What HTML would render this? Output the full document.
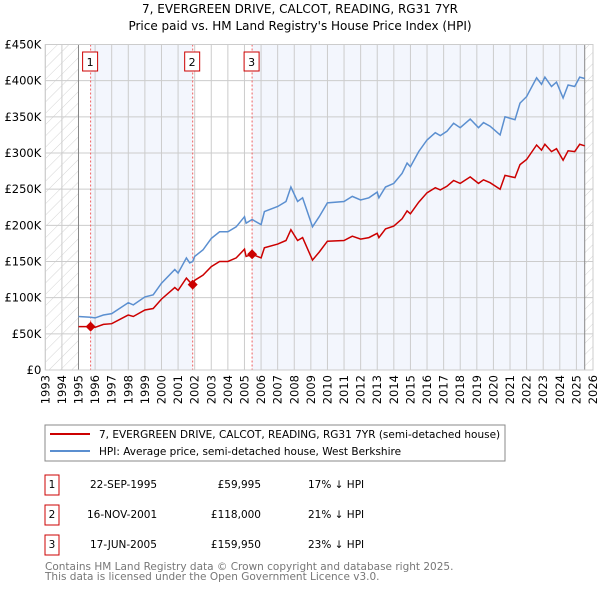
<!DOCTYPE html>
<html><head><meta charset="utf-8"><style>
body{margin:0;background:#fff;width:600px;height:590px;overflow:hidden;font-family:"DejaVu Sans","Liberation Sans",sans-serif}
svg text{font-family:"DejaVu Sans","Liberation Sans",sans-serif}
</style></head><body>
<svg id="chart" width="600" height="590" xmlns="http://www.w3.org/2000/svg">
<defs><pattern id="hatch" width="8" height="8" patternUnits="userSpaceOnUse" patternTransform="rotate(45)"><line x1="0" y1="0" x2="0" y2="8" stroke="#d4d4d4" stroke-width="1"/></pattern></defs>
<text x="300" y="13" text-anchor="middle" font-size="12">7, EVERGREEN DRIVE, CALCOT, READING, RG31 7YR</text>
<text x="300" y="30" text-anchor="middle" font-size="12">Price paid vs. HM Land Registry's House Price Index (HPI)</text>
<g id="plot"></g>
<rect x="45" y="425" width="460" height="36" fill="#fff" stroke="#888"/>
<line x1="50" y1="434" x2="90" y2="434" stroke="#cc0000" stroke-width="2"/>
<text x="99" y="438" font-size="10.5">7, EVERGREEN DRIVE, CALCOT, READING, RG31 7YR (semi-detached house)</text>
<line x1="50" y1="451" x2="90" y2="451" stroke="#5b8fd0" stroke-width="2"/>
<text x="99" y="455" font-size="10.5">HPI: Average price, semi-detached house, West Berkshire</text>
<g font-size="10.5">
<rect x="45" y="475" width="14" height="20" fill="none" stroke="#cc0000"/><text x="52" y="488" text-anchor="middle">1</text>
<text x="90" y="488">22-SEP-1995</text><text x="261" y="488" text-anchor="end">£59,995</text><text x="308" y="488">17% ↓ HPI</text>
<rect x="45" y="505" width="14" height="20" fill="none" stroke="#cc0000"/><text x="52" y="518" text-anchor="middle">2</text>
<text x="87" y="518">16-NOV-2001</text><text x="261" y="518" text-anchor="end">£118,000</text><text x="308" y="518">21% ↓ HPI</text>
<rect x="45" y="535" width="14" height="20" fill="none" stroke="#cc0000"/><text x="52" y="548" text-anchor="middle">3</text>
<text x="90" y="548">17-JUN-2005</text><text x="261" y="548" text-anchor="end">£159,950</text><text x="308" y="548">23% ↓ HPI</text>
</g>
<text x="45" y="570" font-size="10.5" fill="#777">Contains HM Land Registry data © Crown copyright and database right 2025.</text>
<text x="45" y="580" font-size="10.5" fill="#777">This data is licensed under the Open Government Licence v3.0.</text>
</svg>
<script>
const dates=[1995.0,1995.73,1996,1996.5,1997,1998,1998.3,1999,1999.5,2000,2000.8,2001,2001.5,2001.7,2001.88,2002,2002.5,2003,2003.5,2004,2004.5,2005.0,2005.1,2005.46,2006,2006.2,2007,2007.5,2007.8,2008.2,2008.5,2009.1,2009.5,2010,2011,2011.5,2012,2012.5,2013,2013.1,2013.5,2014,2014.5,2014.8,2015,2015.5,2016,2016.5,2016.8,2017.2,2017.6,2018,2018.6,2019.1,2019.4,2019.8,2020.4,2020.7,2021.3,2021.6,2022,2022.6,2022.9,2023.1,2023.5,2023.8,2024.2,2024.5,2024.9,2025.2,2025.5];
const hpiValues=[74,73,72,76,78,93,90,101,104,120,139,134,155,148,150,157,166,182,191,191,198,212,203,208,201,219,226,233,253,233,238,198,212,231,233,240,235,238,246,238,253,258,272,286,281,302,318,328,324,330,341,335,347,335,342,337,325,350,346,369,378,404,395,405,392,398,376,394,392,405,403];
const priceValues=[60,60,59,63,64,76,74,83,85,98,114,110,127,122,118,124,131,143,150,150,155,167,157,160,155,169,174,179,194,179,183,152,163,178,179,185,181,183,189,183,195,199,209,220,216,232,245,252,249,254,262,258,267,258,263,259,250,269,266,284,291,311,304,312,302,306,290,303,302,312,310];
const saleDates=[1995.73,2001.88,2005.46];
const salePrices=[59.995,118,159.95];
const saleLabels=['1','2','3'];
const yTicks=[0,50,100,150,200,250,300,350,400,450];
const yTickLabels=['£0','£50K','£100K','£150K','£200K','£250K','£300K','£350K','£400K','£450K'];
const xYears=[];for(let y=1993;y<=2026;y++)xYears.push(y);
const X0=45.3,X1=593,Y0=370,Y1=44.5,ymin=1993,ymaxY=2026;
const xs=d=>X0+(d-ymin)/(ymaxY-ymin)*(X1-X0);
const ys=v=>Y0-v/450*(Y0-Y1);
const NS='http://www.w3.org/2000/svg';
const g=document.getElementById('plot');
function mk(t,a){const e=document.createElementNS(NS,t);for(const k in a)e.setAttribute(k,a[k]);g.appendChild(e);return e;}
let e;
e=mk('rect',{x:X0,y:Y1,width:X1-X0,height:Y0-Y1,fill:'#fff'});


e=mk('rect',{x:xs(saleDates[0]),y:Y1,width:xs(saleDates[1])-xs(saleDates[0]),height:Y0-Y1,fill:'#f3f6fd'});


e=mk('rect',{x:xs(saleDates[2]),y:Y1,width:xs(2025.5)-xs(saleDates[2]),height:Y0-Y1,fill:'#f3f6fd'});


e=mk('rect',{x:X0,y:Y1,width:xs(1995)-X0,height:Y0-Y1,fill:'url(#hatch)'});


e=mk('rect',{x:xs(2025.5),y:Y1,width:X1-xs(2025.5),height:Y0-Y1,fill:'url(#hatch)'});


yTicks.forEach((v,i)=>{
 e=mk('line',{x1:X0,x2:X1,y1:ys(v),y2:ys(v),stroke:'#ccc'});
 
 
 e=mk('text',{x:X0-4,y:ys(v)+4,'text-anchor':'end','font-size':'11.5'});e.textContent=yTickLabels[i];
 
 
});
xYears.forEach(y=>{
 e=mk('line',{x1:xs(y),x2:xs(y),y1:Y1,y2:Y0,stroke:'#ccc'});
 
 
 e=mk('text',{x:0,y:0,'font-size':'11.5','text-anchor':'end',transform:`translate(${xs(y)+4},${Y0+5}) rotate(-90)`});e.textContent=y;
 
 
});
e=mk('line',{x1:xs(1995),x2:xs(1995),y1:Y1,y2:Y0,stroke:'#888'});


e=mk('line',{x1:xs(2025.5),x2:xs(2025.5),y1:Y1,y2:Y0,stroke:'#888'});


saleDates.forEach((d,i)=>{
 e=mk('line',{x1:xs(d),x2:xs(d),y1:Y1,y2:Y0,stroke:'#f06060','stroke-dasharray':'2,2'});
 
 
 e=mk('rect',{x:xs(d)-8,y:52,width:15,height:19,fill:'#fff',stroke:'#cc0000'});
 
 
 e=mk('text',{x:xs(d)-0.5,y:66,'text-anchor':'middle','font-size':'11'});e.textContent=saleLabels[i];
 
 
});
const pts=a=>dates.map((d,i)=>xs(d).toFixed(1)+','+ys(a[i]).toFixed(1)).join(' ');
e=mk('polyline',{points:pts(hpiValues),fill:'none',stroke:'#5b8fd0','stroke-width':1.5});


e=mk('polyline',{points:pts(priceValues),fill:'none',stroke:'#cc0000','stroke-width':1.5});


saleDates.forEach((d,i)=>{
 const cx=xs(d),cy=ys(salePrices[i]);
 e=mk('polygon',{points:`${cx},${cy-5} ${cx+5},${cy} ${cx},${cy+5} ${cx-5},${cy}`,fill:'#cc0000'});
 
 
});
e=mk('rect',{x:X0,y:Y1,width:X1-X0,height:Y0-Y1,fill:'none',stroke:'#ccc'});


</script>
</body></html>
